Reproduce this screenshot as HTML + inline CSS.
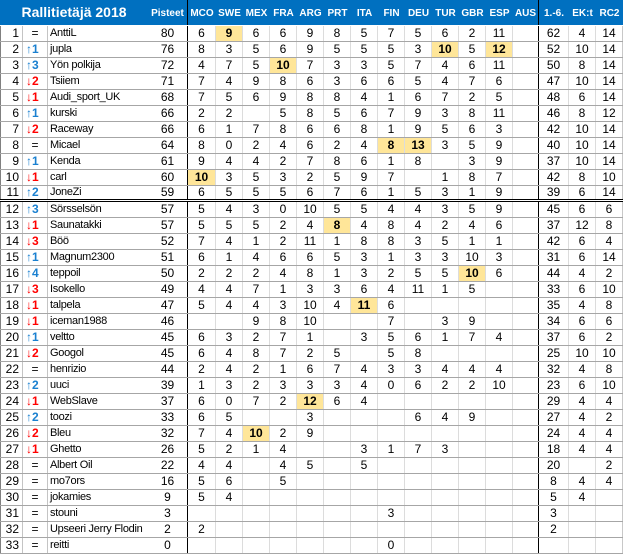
<!DOCTYPE html>
<html><head><meta charset="utf-8">
<style>
html,body{margin:0;padding:0;background:#fff;}
body{width:623px;height:554px;position:relative;overflow:hidden;font-family:"Liberation Sans","DejaVu Sans",sans-serif;color:#000;}
.hd{position:absolute;left:0;top:0;width:623px;height:25px;background:#0070C0;display:grid;
grid-template-columns:23px 25px 100px 40px 28px repeat(11,27px) 26px 30px 27px 27px;}
.hd>i{font-style:normal;display:block;box-sizing:border-box;height:25px;line-height:27px;color:#fff;font-weight:bold;font-size:10px;text-align:center;white-space:nowrap;overflow:visible;}
.hd>i.t{grid-column:1/4;font-size:14px;line-height:25px;}
.hd>i:nth-child(2),.hd>i:nth-child(15){border-right:1px solid #000;}
.r{position:absolute;left:0;width:623px;height:16px;box-sizing:border-box;border-bottom:1px solid #a6a6a6;display:grid;
grid-template-columns:23px 25px 100px 40px 28px repeat(11,27px) 26px 30px 27px 27px;}
.r>i{font-style:normal;display:block;box-sizing:border-box;height:15px;line-height:15px;font-size:12px;text-align:center;white-space:nowrap;overflow:hidden;border-right:1px solid #dcdcdc;}
.r>i:nth-child(1){border-left:1px solid #808080;border-right-color:#c4c4c4;text-align:right;padding-right:3px;}
.r>i:nth-child(2){border-right-color:#c4c4c4;text-align:left;padding-left:3px;font-weight:bold;}
.r>i:nth-child(2).e{text-align:center;padding-left:0;font-weight:normal;}
.r>i:nth-child(3){border-right:none;text-align:left;padding-left:2px;font-size:11px;letter-spacing:-0.3px;}
.r>i:nth-child(4){border-right:1px solid #000;}
.r>i:nth-child(17){border-right:1px solid #000;}
.r>i:nth-child(20){border-right-color:#c8c8c8;}
.r>i.u{color:#1a80d0;}
.r>i.d{color:#ff0000;}
.r>i.h{background:#FFE699;font-weight:bold;}
.r.a{height:14px;border-bottom:1px solid #000;}
.r.a>i{height:13px;line-height:13px;}
.r.b{height:17px;border-top:1px solid #000;}
</style></head><body>
<div class="hd"><i class="t">Rallitietäjä 2018</i><i>Pisteet</i><i>MCO</i><i>SWE</i><i>MEX</i><i>FRA</i><i>ARG</i><i>PRT</i><i>ITA</i><i>FIN</i><i>DEU</i><i>TUR</i><i>GBR</i><i>ESP</i><i>AUS</i><i>1.-6.</i><i>EK:t</i><i>RC2</i></div>

<div class="r" style="top:26px"><i>1</i><i class="e">=</i><i>AnttiL</i><i>80</i><i>6</i><i class="h">9</i><i>6</i><i>6</i><i>9</i><i>8</i><i>5</i><i>7</i><i>5</i><i>6</i><i>2</i><i>11</i><i></i><i>62</i><i>4</i><i>14</i></div>
<div class="r" style="top:42px"><i>2</i><i class="u">↑1</i><i>jupla</i><i>76</i><i>8</i><i>3</i><i>5</i><i>6</i><i>9</i><i>5</i><i>5</i><i>5</i><i>3</i><i class="h">10</i><i>5</i><i class="h">12</i><i></i><i>52</i><i>10</i><i>14</i></div>
<div class="r" style="top:58px"><i>3</i><i class="u">↑3</i><i>Yön polkija</i><i>72</i><i>4</i><i>7</i><i>5</i><i class="h">10</i><i>7</i><i>3</i><i>3</i><i>5</i><i>7</i><i>4</i><i>6</i><i>11</i><i></i><i>50</i><i>8</i><i>14</i></div>
<div class="r" style="top:74px"><i>4</i><i class="d">↓2</i><i>Tsiiem</i><i>71</i><i>7</i><i>4</i><i>9</i><i>8</i><i>6</i><i>3</i><i>6</i><i>6</i><i>5</i><i>4</i><i>7</i><i>6</i><i></i><i>47</i><i>10</i><i>14</i></div>
<div class="r" style="top:90px"><i>5</i><i class="d">↓1</i><i>Audi_sport_UK</i><i>68</i><i>7</i><i>5</i><i>6</i><i>9</i><i>8</i><i>8</i><i>4</i><i>1</i><i>6</i><i>7</i><i>2</i><i>5</i><i></i><i>48</i><i>6</i><i>14</i></div>
<div class="r" style="top:106px"><i>6</i><i class="u">↑1</i><i>kurski</i><i>66</i><i>2</i><i>2</i><i></i><i>5</i><i>8</i><i>5</i><i>6</i><i>7</i><i>9</i><i>3</i><i>8</i><i>11</i><i></i><i>46</i><i>8</i><i>12</i></div>
<div class="r" style="top:122px"><i>7</i><i class="d">↓2</i><i>Raceway</i><i>66</i><i>6</i><i>1</i><i>7</i><i>8</i><i>6</i><i>6</i><i>8</i><i>1</i><i>9</i><i>5</i><i>6</i><i>3</i><i></i><i>42</i><i>10</i><i>14</i></div>
<div class="r" style="top:138px"><i>8</i><i class="e">=</i><i>Micael</i><i>64</i><i>8</i><i>0</i><i>2</i><i>4</i><i>6</i><i>2</i><i>4</i><i class="h">8</i><i class="h">13</i><i>3</i><i>5</i><i>9</i><i></i><i>40</i><i>10</i><i>14</i></div>
<div class="r" style="top:154px"><i>9</i><i class="u">↑1</i><i>Kenda</i><i>61</i><i>9</i><i>4</i><i>4</i><i>2</i><i>7</i><i>8</i><i>6</i><i>1</i><i>8</i><i></i><i>3</i><i>9</i><i></i><i>37</i><i>10</i><i>14</i></div>
<div class="r" style="top:170px"><i>10</i><i class="d">↓1</i><i>carl</i><i>60</i><i class="h">10</i><i>3</i><i>5</i><i>3</i><i>2</i><i>5</i><i>9</i><i>7</i><i></i><i>1</i><i>8</i><i>7</i><i></i><i>42</i><i>8</i><i>10</i></div>
<div class="r a" style="top:186px"><i>11</i><i class="u">↑2</i><i>JoneZi</i><i>59</i><i>6</i><i>5</i><i>5</i><i>5</i><i>6</i><i>7</i><i>6</i><i>1</i><i>5</i><i>3</i><i>1</i><i>9</i><i></i><i>39</i><i>6</i><i>14</i></div>
<div class="r b" style="top:201px"><i>12</i><i class="u">↑3</i><i>Sörsselsön</i><i>57</i><i>5</i><i>4</i><i>3</i><i>0</i><i>10</i><i>5</i><i>5</i><i>4</i><i>4</i><i>3</i><i>5</i><i>9</i><i></i><i>45</i><i>6</i><i>6</i></div>
<div class="r" style="top:218px"><i>13</i><i class="d">↓1</i><i>Saunatakki</i><i>57</i><i>5</i><i>5</i><i>5</i><i>2</i><i>4</i><i class="h">8</i><i>4</i><i>8</i><i>4</i><i>2</i><i>4</i><i>6</i><i></i><i>37</i><i>12</i><i>8</i></div>
<div class="r" style="top:234px"><i>14</i><i class="d">↓3</i><i>Böö</i><i>52</i><i>7</i><i>4</i><i>1</i><i>2</i><i>11</i><i>1</i><i>8</i><i>8</i><i>3</i><i>5</i><i>1</i><i>1</i><i></i><i>42</i><i>6</i><i>4</i></div>
<div class="r" style="top:250px"><i>15</i><i class="u">↑1</i><i>Magnum2300</i><i>51</i><i>6</i><i>1</i><i>4</i><i>6</i><i>6</i><i>5</i><i>3</i><i>1</i><i>3</i><i>3</i><i>10</i><i>3</i><i></i><i>31</i><i>6</i><i>14</i></div>
<div class="r" style="top:266px"><i>16</i><i class="u">↑4</i><i>teppoil</i><i>50</i><i>2</i><i>2</i><i>2</i><i>4</i><i>8</i><i>1</i><i>3</i><i>2</i><i>5</i><i>5</i><i class="h">10</i><i>6</i><i></i><i>44</i><i>4</i><i>2</i></div>
<div class="r" style="top:282px"><i>17</i><i class="d">↓3</i><i>Isokello</i><i>49</i><i>4</i><i>4</i><i>7</i><i>1</i><i>3</i><i>3</i><i>6</i><i>4</i><i>11</i><i>1</i><i>5</i><i></i><i></i><i>33</i><i>6</i><i>10</i></div>
<div class="r" style="top:298px"><i>18</i><i class="d">↓1</i><i>talpela</i><i>47</i><i>5</i><i>4</i><i>4</i><i>3</i><i>10</i><i>4</i><i class="h">11</i><i>6</i><i></i><i></i><i></i><i></i><i></i><i>35</i><i>4</i><i>8</i></div>
<div class="r" style="top:314px"><i>19</i><i class="d">↓1</i><i>iceman1988</i><i>46</i><i></i><i></i><i>9</i><i>8</i><i>10</i><i></i><i></i><i>7</i><i></i><i>3</i><i>9</i><i></i><i></i><i>34</i><i>6</i><i>6</i></div>
<div class="r" style="top:330px"><i>20</i><i class="u">↑1</i><i>veltto</i><i>45</i><i>6</i><i>3</i><i>2</i><i>7</i><i>1</i><i></i><i>3</i><i>5</i><i>6</i><i>1</i><i>7</i><i>4</i><i></i><i>37</i><i>6</i><i>2</i></div>
<div class="r" style="top:346px"><i>21</i><i class="d">↓2</i><i>Googol</i><i>45</i><i>6</i><i>4</i><i>8</i><i>7</i><i>2</i><i>5</i><i></i><i>5</i><i>8</i><i></i><i></i><i></i><i></i><i>25</i><i>10</i><i>10</i></div>
<div class="r" style="top:362px"><i>22</i><i class="e">=</i><i>henrizio</i><i>44</i><i>2</i><i>4</i><i>2</i><i>1</i><i>6</i><i>7</i><i>4</i><i>3</i><i>3</i><i>4</i><i>4</i><i>4</i><i></i><i>32</i><i>4</i><i>8</i></div>
<div class="r" style="top:378px"><i>23</i><i class="u">↑2</i><i>uuci</i><i>39</i><i>1</i><i>3</i><i>2</i><i>3</i><i>3</i><i>3</i><i>4</i><i>0</i><i>6</i><i>2</i><i>2</i><i>10</i><i></i><i>23</i><i>6</i><i>10</i></div>
<div class="r" style="top:394px"><i>24</i><i class="d">↓1</i><i>WebSlave</i><i>37</i><i>6</i><i>0</i><i>7</i><i>2</i><i class="h">12</i><i>6</i><i>4</i><i></i><i></i><i></i><i></i><i></i><i></i><i>29</i><i>4</i><i>4</i></div>
<div class="r" style="top:410px"><i>25</i><i class="u">↑2</i><i>toozi</i><i>33</i><i>6</i><i>5</i><i></i><i></i><i>3</i><i></i><i></i><i></i><i>6</i><i>4</i><i>9</i><i></i><i></i><i>27</i><i>4</i><i>2</i></div>
<div class="r" style="top:426px"><i>26</i><i class="d">↓2</i><i>Bleu</i><i>32</i><i>7</i><i>4</i><i class="h">10</i><i>2</i><i>9</i><i></i><i></i><i></i><i></i><i></i><i></i><i></i><i></i><i>24</i><i>4</i><i>4</i></div>
<div class="r" style="top:442px"><i>27</i><i class="d">↓1</i><i>Ghetto</i><i>26</i><i>5</i><i>2</i><i>1</i><i>4</i><i></i><i></i><i>3</i><i>1</i><i>7</i><i>3</i><i></i><i></i><i></i><i>18</i><i>4</i><i>4</i></div>
<div class="r" style="top:458px"><i>28</i><i class="e">=</i><i>Albert Oil</i><i>22</i><i>4</i><i>4</i><i></i><i>4</i><i>5</i><i></i><i>5</i><i></i><i></i><i></i><i></i><i></i><i></i><i>20</i><i></i><i>2</i></div>
<div class="r" style="top:474px"><i>29</i><i class="e">=</i><i>mo7ors</i><i>16</i><i>5</i><i>6</i><i></i><i>5</i><i></i><i></i><i></i><i></i><i></i><i></i><i></i><i></i><i></i><i>8</i><i>4</i><i>4</i></div>
<div class="r" style="top:490px"><i>30</i><i class="e">=</i><i>jokamies</i><i>9</i><i>5</i><i>4</i><i></i><i></i><i></i><i></i><i></i><i></i><i></i><i></i><i></i><i></i><i></i><i>5</i><i>4</i><i></i></div>
<div class="r" style="top:506px"><i>31</i><i class="e">=</i><i>stouni</i><i>3</i><i></i><i></i><i></i><i></i><i></i><i></i><i></i><i>3</i><i></i><i></i><i></i><i></i><i></i><i>3</i><i></i><i></i></div>
<div class="r" style="top:522px"><i>32</i><i class="e">=</i><i>Upseeri Jerry Flodin</i><i>2</i><i>2</i><i></i><i></i><i></i><i></i><i></i><i></i><i></i><i></i><i></i><i></i><i></i><i></i><i>2</i><i></i><i></i></div>
<div class="r" style="top:538px"><i>33</i><i class="e">=</i><i>reitti</i><i>0</i><i></i><i></i><i></i><i></i><i></i><i></i><i></i><i>0</i><i></i><i></i><i></i><i></i><i></i><i></i><i></i><i></i></div>
</body></html>
